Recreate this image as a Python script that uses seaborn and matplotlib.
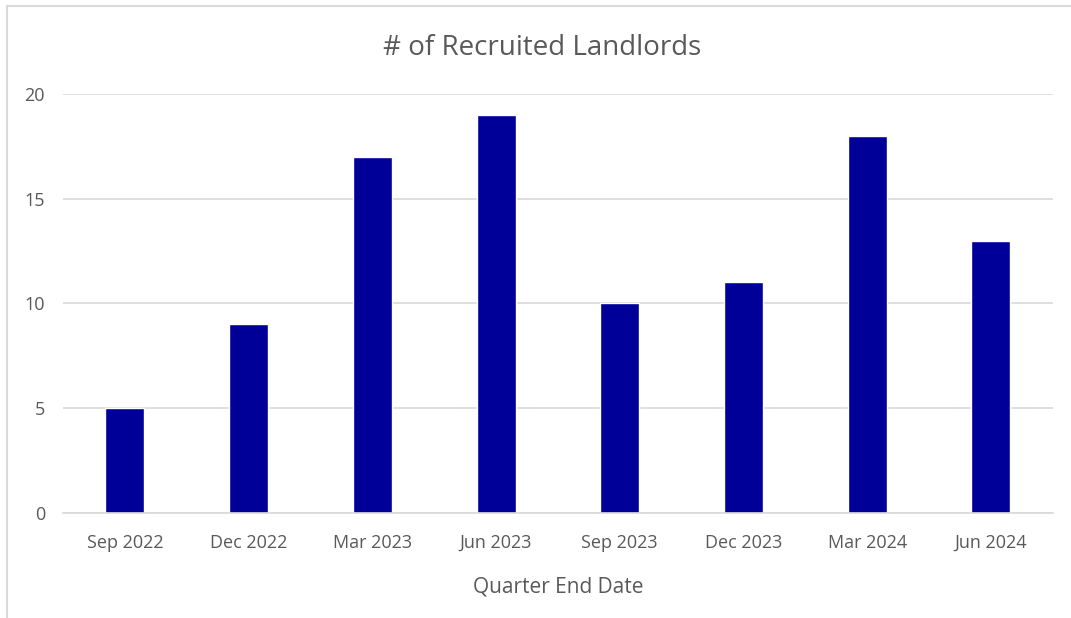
import seaborn as sns
import matplotlib.pyplot as plt
from matplotlib.lines import Line2D
import pandas as pd

# data
quarters = ['Sep 2022', 'Dec 2022', 'Mar 2023', 'Jun 2023',
            'Sep 2023', 'Dec 2023', 'Mar 2024', 'Jun 2024']
landlords = [5, 9, 17, 19, 10, 11, 18, 13]
y_ticks = [0, 5, 10, 15, 20]

df = pd.DataFrame({'quarter': quarters, 'count': landlords})

sns.set_style('white')
plt.rcParams['font.family'] = ['Open Sans', 'DejaVu Sans']

fig = plt.figure(figsize=(10.71, 6.18), dpi=100)
ax = fig.add_axes([0.0588, 0.170, 0.9242, 0.678])

sns.barplot(data=df, x='quarter', y='count', color='#000099',
            saturation=1, width=0.315, ax=ax)

ax.set_ylim(0, 20)
ax.set_xlim(-0.5, len(quarters) - 0.5)
ax.set_yticks(y_ticks)
ax.yaxis.grid(True, color='#d9d9d9', linewidth=1.2)
ax.set_axisbelow(True)
for side in ['top', 'right', 'left']:
    ax.spines[side].set_visible(False)
ax.spines['bottom'].set_color('#d9d9d9')
ax.spines['bottom'].set_linewidth(1.2)
ax.tick_params(axis='both', length=0, labelsize=13, colors='#595959')
ax.tick_params(axis='y', pad=13)
ax.tick_params(axis='x', pad=15)

ax.set_title('# of Recruited Landlords', fontsize=20, color='#595959',
             pad=28, x=0.484)
ax.set_xlabel('Quarter End Date', fontsize=15, color='#595959', labelpad=18)
ax.set_ylabel('')

# light frame on the left and top edges
fig.add_artist(Line2D([7 / 1071, 7 / 1071], [0, 1 - 6 / 618],
                      color='#d9d9d9', linewidth=1.5, transform=fig.transFigure))
fig.add_artist(Line2D([7 / 1071, 1], [1 - 6 / 618, 1 - 6 / 618],
                      color='#d9d9d9', linewidth=1.5, transform=fig.transFigure))

fig.savefig('out.png', dpi=100)
